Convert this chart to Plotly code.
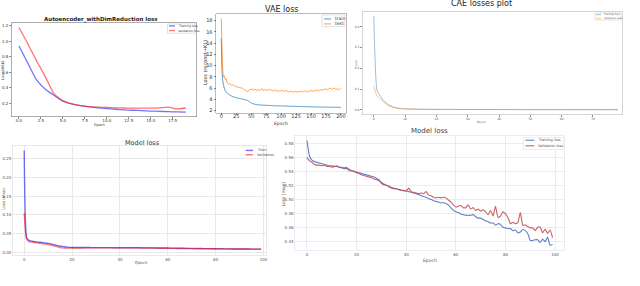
import plotly.graph_objects as go

W, H = 640, 286
def px(x): return x / W
def py(y): return 1 - y / H

FONT = "DejaVu Sans"

# ---------------- Chart 1: Autoencoder_withDimReduction loss ----------------
ae_epochs = list(range(20))
ae_train = [0.94, 0.72, 0.50, 0.38, 0.30, 0.225, 0.19, 0.167, 0.152, 0.140,
            0.130, 0.121, 0.114, 0.108, 0.103, 0.098, 0.094, 0.090, 0.086, 0.084]
ae_val = [1.18, 0.97, 0.75, 0.54, 0.32, 0.232, 0.19, 0.168, 0.156, 0.149,
          0.144, 0.140, 0.137, 0.135, 0.135, 0.135, 0.139, 0.148, 0.126, 0.137]
ae_xticks = [0, 2.5, 5, 7.5, 10, 12.5, 15, 17.5]
ae_xticktext = ["0.0", "2.5", "5.0", "7.5", "10.0", "12.5", "15.0", "17.5"]
ae_yticks = [0.2, 0.4, 0.6, 0.8, 1.0, 1.2]
ae_yticktext = ["0.2", "0.4", "0.6", "0.8", "1.0", "1.2"]

# ---------------- Chart 2: VAE loss ----------------
vae_epochs = list(range(10)) + list(range(10, 201, 2))
vae_train = [14.9, 9.9, 7.8, 6.9, 6.4, 6.0, 5.7, 5.5, 5.35, 5.2,
             5.10, 4.95, 4.80, 4.66, 4.55, 4.46, 4.39, 4.33, 4.28, 4.23,
             4.18, 4.13, 4.08, 4.03, 3.99, 3.95, 3.88, 3.80, 3.68, 3.52,
             3.38, 3.28, 3.20, 3.14, 3.10, 3.06, 3.03, 3.01, 2.99, 2.98,
             2.97, 2.96, 2.95, 2.94, 2.93, 2.92, 2.91, 2.90, 2.89, 2.88,
             2.87, 2.86, 2.85, 2.85, 2.84, 2.83, 2.83, 2.82, 2.81, 2.81,
             2.80, 2.79, 2.79, 2.78, 2.77, 2.77, 2.76, 2.75, 2.75, 2.74,
             2.74, 2.73, 2.72, 2.72, 2.71, 2.71, 2.70, 2.70, 2.69, 2.69,
             2.68, 2.68, 2.67, 2.67, 2.66, 2.66, 2.65, 2.65, 2.64, 2.64,
             2.63, 2.63, 2.63, 2.62, 2.62, 2.61, 2.61, 2.61, 2.60, 2.60,
             2.60, 2.59, 2.59, 2.59, 2.58, 2.58]
vae_test = [18.4, 14.0, 10.5, 8.4, 8.0, 8.2, 7.8, 7.5, 7.7, 7.2,
            6.9, 6.7, 6.8, 6.6, 6.5, 6.6, 6.4, 6.2, 6.3, 6.1,
            6.2, 6.0, 6.1, 5.9, 5.8, 5.6, 5.5, 5.35, 5.6, 5.8,
            5.7, 5.9, 5.6, 5.8, 5.7, 5.5, 5.8, 5.6, 5.7, 5.9,
            5.6, 5.7, 5.8, 5.5, 5.7, 5.8, 5.6, 5.7, 5.5, 5.6,
            5.7, 5.5, 5.6, 5.4, 5.6, 5.5, 5.6, 5.5, 5.4, 5.6,
            5.5, 5.3, 5.4, 5.5, 5.3, 5.4, 5.3, 5.4, 5.3, 5.4,
            5.3, 5.5, 5.4, 5.3, 5.5, 5.4, 5.5, 5.3, 5.5, 5.4,
            5.6, 5.5, 5.4, 5.6, 5.5, 5.7, 5.6, 5.5, 5.7, 5.6,
            5.8, 5.7, 5.9, 5.8, 5.7, 5.9, 6.0, 5.8, 5.9, 6.0,
            5.9, 5.8, 5.9, 5.7, 5.8, 6.0]
vae_xticks = [0, 25, 50, 75, 100, 125, 150, 175, 200]
vae_yticks = [2, 4, 6, 8, 10, 12, 14, 16, 18]

# ---------------- Chart 3: CAE losses plot ----------------
cae_epochs = list(range(79))
cae_train = [0.450, 0.095, 0.068, 0.048, 0.033, 0.022, 0.015, 0.011, 0.008, 0.006,
             0.005, 0.0045, 0.0041, 0.0037, 0.0034, 0.0031, 0.0029, 0.0027, 0.0026, 0.0025,
             0.0024, 0.0023, 0.0023, 0.0022, 0.0022, 0.0021, 0.0021, 0.0020, 0.0020, 0.0019,
             0.0019, 0.0019, 0.0018, 0.0018, 0.0018, 0.0017, 0.0017, 0.0017, 0.0017, 0.0016,
             0.0016, 0.0016, 0.0016, 0.0015, 0.0015, 0.0015, 0.0015, 0.0015, 0.0014, 0.0014,
             0.0014, 0.0014, 0.0014, 0.0014, 0.0013, 0.0013, 0.0013, 0.0013, 0.0013, 0.0013,
             0.0013, 0.0012, 0.0012, 0.0012, 0.0012, 0.0012, 0.0012, 0.0012, 0.0012, 0.0011,
             0.0011, 0.0011, 0.0011, 0.0011, 0.0011, 0.0011, 0.0011, 0.0011, 0.0011]
cae_val = [0.115, 0.066, 0.054, 0.040, 0.028, 0.019, 0.013, 0.009, 0.0070, 0.0056,
           0.0048, 0.0043, 0.0039, 0.0036, 0.0033, 0.0031, 0.0030, 0.0028, 0.0027, 0.0026,
           0.0025, 0.0025, 0.0024, 0.0024, 0.0023, 0.0023, 0.0022, 0.0022, 0.0022, 0.0021,
           0.0021, 0.0021, 0.0020, 0.0020, 0.0020, 0.0020, 0.0019, 0.0019, 0.0019, 0.0019,
           0.0019, 0.0018, 0.0018, 0.0018, 0.0018, 0.0018, 0.0018, 0.0017, 0.0017, 0.0017,
           0.0017, 0.0017, 0.0017, 0.0017, 0.0016, 0.0016, 0.0016, 0.0016, 0.0016, 0.0016,
           0.0016, 0.0016, 0.0015, 0.0015, 0.0015, 0.0015, 0.0015, 0.0015, 0.0015, 0.0015,
           0.0015, 0.0015, 0.0014, 0.0014, 0.0014, 0.0014, 0.0014, 0.0014, 0.0014]
cae_xticks = [0, 10, 20, 30, 40, 50, 60, 70]
cae_yticks = [0.0, 0.1, 0.2, 0.3, 0.4]

# ---------------- Chart 4: Model loss (mse) ----------------
m1_epochs = list(range(100))
m1_train = [0.272, 0.040, 0.032, 0.030, 0.029, 0.028, 0.027, 0.027, 0.026, 0.025,
            0.024, 0.023, 0.021, 0.020, 0.018, 0.017, 0.016, 0.015, 0.014, 0.0135,
            0.0133, 0.0132, 0.0132, 0.0131, 0.0131, 0.0130, 0.0130, 0.0130, 0.0129, 0.0129,
            0.0129, 0.0128, 0.0128, 0.0128, 0.0127, 0.0127, 0.0127, 0.0126, 0.0126, 0.0126,
            0.0125, 0.0125, 0.0125, 0.0124, 0.0124, 0.0124, 0.0123, 0.0123, 0.0123, 0.0122,
            0.0122, 0.0121, 0.0121, 0.0120, 0.0120, 0.0119, 0.0119, 0.0118, 0.0118, 0.0117,
            0.0116, 0.0115, 0.0114, 0.0113, 0.0112, 0.0111, 0.0110, 0.0109, 0.0108, 0.0107,
            0.0106, 0.0105, 0.0104, 0.0104, 0.0103, 0.0102, 0.0101, 0.0100, 0.0100, 0.0099,
            0.0098, 0.0097, 0.0097, 0.0096, 0.0095, 0.0095, 0.0094, 0.0093, 0.0093, 0.0092,
            0.0092, 0.0091, 0.0091, 0.0090, 0.0090, 0.0089, 0.0089, 0.0088, 0.0088, 0.0088]
m1_val = [0.105, 0.036, 0.029, 0.028, 0.027, 0.026, 0.025, 0.024, 0.023, 0.022,
          0.021, 0.020, 0.018, 0.017, 0.015, 0.013, 0.012, 0.0118, 0.0117, 0.0117,
          0.0118, 0.0118, 0.0119, 0.0119, 0.0119, 0.0120, 0.0120, 0.0120, 0.0120, 0.0121,
          0.0121, 0.0121, 0.0121, 0.0122, 0.0122, 0.0122, 0.0122, 0.0122, 0.0122, 0.0122,
          0.0122, 0.0122, 0.0121, 0.0121, 0.0121, 0.0121, 0.0120, 0.0120, 0.0120, 0.0119,
          0.0119, 0.0118, 0.0118, 0.0117, 0.0116, 0.0115, 0.0114, 0.0113, 0.0112, 0.0111,
          0.0110, 0.0109, 0.0108, 0.0107, 0.0106, 0.0105, 0.0104, 0.0103, 0.0103, 0.0102,
          0.0101, 0.0100, 0.0100, 0.0099, 0.0099, 0.0098, 0.0098, 0.0097, 0.0097, 0.0096,
          0.0096, 0.0095, 0.0095, 0.0094, 0.0094, 0.0093, 0.0093, 0.0092, 0.0092, 0.0091,
          0.0091, 0.0090, 0.0090, 0.0090, 0.0089, 0.0089, 0.0089, 0.0088, 0.0088, 0.0088]
m1_xticks = [0, 20, 40, 60, 80, 100]
m1_yticks = [0.00, 0.05, 0.10, 0.15, 0.20, 0.25]
m1_yticktext = ["0.00", "0.05", "0.10", "0.15", "0.20", "0.25"]

# ---------------- Chart 5: Model loss (mae) ----------------
m2_epochs = list(range(100))
m2_train = [0.584, 0.562, 0.556, 0.554, 0.553, 0.552, 0.551, 0.550, 0.549, 0.548,
            0.548, 0.547, 0.547, 0.546, 0.545, 0.544, 0.544, 0.543, 0.541, 0.540,
            0.539, 0.538, 0.537, 0.536, 0.535, 0.534, 0.533, 0.532, 0.530, 0.528,
            0.524, 0.522, 0.520, 0.519, 0.517, 0.516, 0.515, 0.514, 0.513, 0.513,
            0.512, 0.511, 0.510, 0.509, 0.508, 0.507, 0.505, 0.504, 0.503, 0.501,
            0.500, 0.498, 0.497, 0.496, 0.495, 0.495, 0.494, 0.492, 0.488, 0.484,
            0.482, 0.481, 0.479, 0.478, 0.477, 0.477, 0.477, 0.478, 0.475, 0.473,
            0.473, 0.471, 0.469, 0.468, 0.466, 0.466, 0.463, 0.465, 0.464, 0.460,
            0.459, 0.458, 0.458, 0.455, 0.456, 0.452, 0.453, 0.457, 0.455, 0.451,
            0.441, 0.441, 0.442, 0.442, 0.438, 0.443, 0.439, 0.446, 0.434, 0.435]
m2_val = [0.560, 0.555, 0.553, 0.550, 0.549, 0.549, 0.548, 0.549, 0.547, 0.547,
          0.546, 0.547, 0.548, 0.546, 0.546, 0.545, 0.546, 0.541, 0.541, 0.540,
          0.538, 0.537, 0.535, 0.534, 0.533, 0.532, 0.531, 0.529, 0.528, 0.527,
          0.523, 0.521, 0.520, 0.518, 0.516, 0.515, 0.515, 0.514, 0.513, 0.512,
          0.512, 0.516, 0.511, 0.510, 0.509, 0.508, 0.509, 0.508, 0.511, 0.506,
          0.505, 0.503, 0.502, 0.503, 0.502, 0.503, 0.502, 0.499, 0.496, 0.492,
          0.489, 0.490, 0.491, 0.488, 0.488, 0.492, 0.486, 0.488, 0.484, 0.486,
          0.483, 0.485, 0.482, 0.478, 0.484, 0.476, 0.490, 0.474, 0.476, 0.482,
          0.479, 0.474, 0.465, 0.467, 0.465, 0.467, 0.481, 0.463, 0.463, 0.461,
          0.459, 0.459, 0.455, 0.460, 0.460, 0.452, 0.457, 0.451, 0.456, 0.445]
m2_xticks = [0, 20, 40, 60, 80, 100]
m2_yticks = [0.44, 0.46, 0.48, 0.50, 0.52, 0.54, 0.56, 0.58]
m2_yticktext = ["0.44", "0.46", "0.48", "0.50", "0.52", "0.54", "0.56", "0.58"]

fig = go.Figure()

def add_line(x, y, axn, color, width):
    fig.add_trace(go.Scatter(x=x, y=y, mode="lines", xaxis="x" + axn, yaxis="y" + axn,
                             line=dict(color=color, width=width, shape="spline", smoothing=0.5),
                             showlegend=False, hoverinfo="skip"))

add_line(ae_epochs, ae_train, "", "rgba(40,40,255,0.65)", 1.3)
add_line(ae_epochs, ae_val, "", "rgba(255,40,40,0.65)", 1.3)
add_line(vae_epochs, vae_train, "2", "rgba(31,119,180,0.75)", 1.0)
add_line(vae_epochs, vae_test, "2", "rgba(255,127,14,0.75)", 1.0)
add_line(cae_epochs, cae_train, "3", "rgba(31,119,180,0.5)", 0.9)
add_line(cae_epochs, cae_val, "3", "rgba(255,127,14,0.5)", 0.9)
add_line(m1_epochs, m1_train, "4", "rgba(0,0,255,0.55)", 1.4)
add_line(m1_epochs, m1_val, "4", "rgba(255,0,0,0.55)", 1.4)
add_line(m2_epochs, m2_train, "5", "rgba(76,114,190,0.9)", 1.1)
add_line(m2_epochs, m2_val, "5", "rgba(196,78,82,0.9)", 1.1)

def axis(dom, rng, tickvals, ticktext, fs, anchor, linecolor, grid=False, gridcolor=None,
         ticks="outside", tickcolor="#444", fontcolor="#333", standoff=0, ticklen=2):
    d = dict(domain=dom, range=rng, tickvals=tickvals, ticktext=ticktext,
             tickfont=dict(size=fs, color=fontcolor, family=FONT), anchor=anchor,
             showline=True, mirror=True, linecolor=linecolor, linewidth=0.8,
             zeroline=False, showgrid=grid, ticks=ticks, ticklen=ticklen, tickwidth=0.6,
             tickcolor=tickcolor, fixedrange=True, ticklabelstandoff=standoff)
    if grid:
        d["gridcolor"] = gridcolor
        d["gridwidth"] = 0.8
    return d

lay = dict(width=W, height=H, margin=dict(l=0, r=0, t=0, b=0),
           paper_bgcolor="white", plot_bgcolor="white", showlegend=False,
           font=dict(family=FONT))

# chart 1
lay["xaxis"] = axis([px(12), px(197)], [-0.8, 20.2], ae_xticks, ae_xticktext, 4, "y", "#999", standoff=-2, ticklen=1.5)
lay["yaxis"] = axis([py(117), py(23)], [0.026, 1.239], ae_yticks, ae_yticktext, 4, "x", "#999")
# chart 2
lay["xaxis2"] = axis([px(217), px(347)], [-8.3, 208.3], vae_xticks, [str(v) for v in vae_xticks], 5, "y2", "#aaaaaa", standoff=-3, ticklen=1.5)
lay["yaxis2"] = axis([py(113), py(14)], [1.65, 19.2], vae_yticks, [str(v) for v in vae_yticks], 5, "x2", "#aaaaaa")
# chart 3
lay["xaxis3"] = axis([px(364), px(624)], [-3.5, 79.3], cae_xticks, [str(v) for v in cae_xticks], 3, "y3", "#cccccc", fontcolor="#555", standoff=-1)
lay["yaxis3"] = axis([py(115), py(12)], [-0.0225, 0.470], cae_yticks, ["%.1f" % v for v in cae_yticks], 3, "x3", "#cccccc", fontcolor="#555")
# chart 4
lay["xaxis4"] = axis([px(13), px(267)], [-4.7, 101.1], m1_xticks, [str(v) for v in m1_xticks], 4, "y4", "#e4e4e4", grid=True, gridcolor="#e4e4e4", ticks="", fontcolor="#555")
lay["yaxis4"] = axis([py(256), py(146)], [-0.0072, 0.2855], m1_yticks, m1_yticktext, 4, "x4", "#e4e4e4", grid=True, gridcolor="#e4e4e4", ticks="", fontcolor="#555")
# chart 5
lay["xaxis5"] = axis([px(296), px(566)], [-4.8, 103.7], m2_xticks, [str(v) for v in m2_xticks], 4, "y5", "#e6e6ee", grid=True, gridcolor="#e6e6ee", ticks="", fontcolor="#555")
lay["yaxis5"] = axis([py(251), py(136)], [0.4271, 0.5914], m2_yticks, m2_yticktext, 4, "x5", "#e6e6ee", grid=True, gridcolor="#e6e6ee", ticks="", fontcolor="#555")

fig.update_layout(**lay)

ann = []
def text(x, y, s, size, color="#333", angle=0, bold=False, xanchor="center"):
    ann.append(dict(x=px(x), y=py(y), xref="paper", yref="paper", text=("<b>%s</b>" % s) if bold else s,
                    showarrow=False, textangle=angle, xanchor=xanchor, yanchor="middle",
                    font=dict(size=size, color=color, family=FONT)))

# titles
text(101, 20, "Autoencoder_withDimReduction loss", 5.5, "#222", bold=True)
text(282, 9.5, "VAE loss", 8, "#222")
text(483, 4, "CAE losses plot", 8, "#222")
text(143, 143, "Model loss", 6.5, "#333")
text(431, 131.5, "Model loss", 7, "#444")
# axis labels
text(100, 125, "Epoch", 3.5)
text(3, 70, "Loss (MSE)", 3.5, angle=-90)
text(282, 123.5, "Epoch", 4.5)
text(205, 63, "Loss (reconst+KL)", 5, angle=-90)
text(483, 122, "Epoch", 2.8, "#555")
text(356.5, 63, "Loss", 2.8, "#555", angle=-90)
text(142, 263, "Epoch", 4, "#555")
text(3.5, 199, "Loss (mse)", 4, "#555", angle=-90)
text(431, 261.5, "Epoch", 4.5, "#555")
text(284, 195, "Loss (mae)", 4.5, "#555", angle=-90)

shapes = []
def legend(axn, box, entries, sx0, sx1, tx, fs, lw, fontcolor="#333", boxcolor="#cccccc"):
    xr = "x%s domain" % axn
    yr = "y%s domain" % axn
    if box is not None:
        shapes.append(dict(type="rect", xref=xr, yref=yr, x0=box[0], x1=box[1], y0=box[2], y1=box[3],
                           line=dict(color=boxcolor, width=0.6), fillcolor="rgba(255,255,255,0.85)"))
    for (yy, col, lab) in entries:
        shapes.append(dict(type="line", xref=xr, yref=yr, x0=sx0, x1=sx1, y0=yy, y1=yy,
                           line=dict(color=col, width=lw)))
        ann.append(dict(x=tx, y=yy, xref=xr, yref=yr, text=lab, showarrow=False,
                        xanchor="left", yanchor="middle", font=dict(size=fs, color=fontcolor, family=FONT)))

legend("", (0.843, 0.992, 0.89, 0.989),
       [(0.968, "rgba(40,40,255,0.65)", "Training loss"), (0.918, "rgba(255,40,40,0.65)", "Validation loss")],
       0.852, 0.884, 0.889, 3, 1.3)
legend("2", (0.815, 0.992, 0.872, 0.99),
       [(0.949, "rgba(31,119,180,0.75)", "train"), (0.899, "rgba(255,127,14,0.75)", "test")],
       0.831, 0.885, 0.9, 4.5, 1.0)
legend("3", (0.896, 0.996, 0.922, 0.99),
       [(0.974, "rgba(31,119,180,0.5)", "Training loss"), (0.939, "rgba(255,127,14,0.5)", "Validation loss")],
       0.9, 0.919, 0.923, 2.5, 0.9, fontcolor="#555")
legend("4", None,
       [(0.955, "rgba(0,0,255,0.55)", "Train"), (0.915, "rgba(255,0,0,0.55)", "Validation")],
       0.919, 0.948, 0.954, 3.5, 1.4, fontcolor="#555")
legend("5", (0.848, 0.999, 0.878, 0.983),
       [(0.959, "rgba(76,114,190,0.9)", "Training loss"), (0.910, "rgba(196,78,82,0.9)", "Validation loss")],
       0.856, 0.889, 0.895, 3.5, 1.1, fontcolor="#555", boxcolor="#e0e0e0")

fig.update_layout(annotations=ann, shapes=shapes)
fig.write_html("out.html", config={"displayModeBar": False, "staticPlot": True})

# remove the default page margin so the figure sits at the window's top-left corner
with open("out.html", "r", encoding="utf-8") as f:
    html = f.read()
html = html.replace("<head>", "<head><style>html,body{margin:0;padding:0;overflow:hidden;}</style>", 1)
with open("out.html", "w", encoding="utf-8") as f:
    f.write(html)
